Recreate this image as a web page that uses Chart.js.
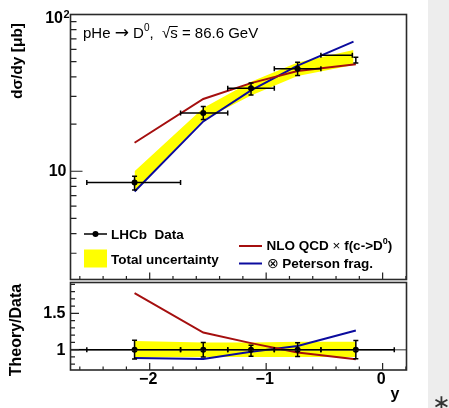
<!DOCTYPE html>
<html><head><meta charset="utf-8">
<script src="https://cdn.jsdelivr.net/npm/chart.js@4.4.0/dist/chart.umd.min.js"></script>
<style>
html,body{margin:0;padding:0;background:#fff;overflow:hidden}
#wrap{position:relative;width:449px;height:408px;background:#fff}
canvas{position:absolute;left:0;top:0}
</style></head>
<body><div id="wrap"><canvas id="top" width="449" height="408"></canvas><canvas id="bot" width="449" height="408"></canvas></div>
<script>
// ---------------- data ----------------
const binCenters = [-2.13, -1.54, -1.13, -0.73, -0.23];
const theoryX    = [-2.13, -1.54, -1.13, -0.73, -0.25];
const topVal     = [8.47, 23.5, 33.8, 45.0, 51.2];
const topErrLo   = [7.6, 21.4, 30.6, 40.8, 49.1];
const topErrHi   = [9.3, 25.9, 36.6, 49.6, 53.4];
const topBinLo   = [-2.54, -1.735, -1.33, -0.93, -0.53];
const topBinHi   = [-1.735, -1.33, -0.93, -0.53, -0.26];
const topBinLevel= [8.47, 23.5, 33.8, 45.0, 55.0];
const topBandHi  = [10.0, 25.3, 37.2, 49.5, 59.4];
const topBandLo  = [7.45, 21.2, 30.4, 40.5, 47.6];
const topNLO     = [15.2, 28.9, 36.5, 43.6, 48.2];
const topPeterson= [7.43, 20.8, 32.8, 47.2, 67.1];

const ratioVal     = [1, 1, 1, 1, 1];
const ratioErrLo   = [0.87, 0.90, 0.91, 0.905, 0.875];
const ratioErrHi   = [1.13, 1.10, 1.06, 1.095, 1.125];
const ratioBinLo   = [-2.54, -1.735, -1.33, -0.93, -0.53];
const ratioBinHi   = [-1.735, -1.33, -0.93, -0.53, 0.10];
const ratioBandHi  = [1.12, 1.097, 1.10, 1.11, 1.11];
const ratioBandLo  = [0.894, 0.90, 0.90, 0.90, 0.90];
const ratioNLO     = [1.78, 1.236, 1.09, 0.96, 0.867];
const ratioPeterson= [0.885, 0.87, 0.97, 1.05, 1.264];

const xMajorTicks = [-2, -1, 0];
const xTickLabels = ['\u22122', '\u22121', '0'];
const xMinorTicks = [-2.6,-2.4,-2.2,-1.8,-1.6,-1.4,-1.2,-0.8,-0.6,-0.4,-0.2,0.2];
const topYMajor = [10, 100];
const topYMinor = [3,4,5,6,7,8,9,20,30,40,50,60,70,80,90];
const ratioYMajor = [1, 1.5];
const ratioYLabels = ['1', '1.5'];
const ratioYMinor = [0.8,0.9,1.1,1.2,1.3,1.4,1.6,1.7,1.8,1.9];

// ---------------- helpers ----------------
const FONT = "'Liberation Sans', Arial, Helvetica, sans-serif";
const RED = '#a50f0f', BLUE = '#0b0b9e', YEL = '#ffff00';
function pts(xs, ys){ return xs.map((x,i)=>({x:x, y:ys[i]})); }
function runs(ctx, x, y, list){
  ctx.textAlign='left'; ctx.textBaseline='alphabetic';
  for(const r of list){ ctx.font=r.f; ctx.fillText(r.t, x, y+(r.dy||0)); x+=ctx.measureText(r.t).width; }
  return x;
}
function errorBars(chart, cx, cy, lo, hi, bl, bh, lvl){
  const ctx=chart.ctx, xs=chart.scales.x, ys=chart.scales.y;
  ctx.save(); ctx.strokeStyle='#000'; ctx.lineWidth=1.5;
  for(let i=0;i<cx.length;i++){
    const x=xs.getPixelForValue(cx[i]);
    const y1=ys.getPixelForValue(lo[i]), y2=ys.getPixelForValue(hi[i]);
    ctx.beginPath(); ctx.moveTo(x,y1); ctx.lineTo(x,y2);
    ctx.moveTo(x-2.5,y1); ctx.lineTo(x+2.5,y1); ctx.moveTo(x-2.5,y2); ctx.lineTo(x+2.5,y2); ctx.stroke();
    const yl=ys.getPixelForValue(lvl[i]);
    const xa=xs.getPixelForValue(bl[i]), xb=xs.getPixelForValue(bh[i]);
    ctx.beginPath(); ctx.moveTo(xa,yl); ctx.lineTo(xb,yl);
    ctx.moveTo(xa,yl-2.5); ctx.lineTo(xa,yl+2.5); ctx.moveTo(xb,yl-2.5); ctx.lineTo(xb,yl+2.5); ctx.stroke();
  }
  ctx.restore();
}
function frameTicks(chart, yMajor, yMinor, yMajLen, yMinLen){
  const ctx=chart.ctx, a=chart.chartArea, xs=chart.scales.x, ys=chart.scales.y;
  ctx.save(); ctx.strokeStyle='#222'; ctx.lineWidth=1.2;
  ctx.beginPath();
  for(const v of xMajorTicks){ const x=xs.getPixelForValue(v); ctx.moveTo(x,a.bottom); ctx.lineTo(x,a.bottom-7); }
  for(const v of xMinorTicks){ const x=xs.getPixelForValue(v); ctx.moveTo(x,a.bottom); ctx.lineTo(x,a.bottom-3.5); }
  for(const v of yMajor){ const y=ys.getPixelForValue(v); ctx.moveTo(a.left,y); ctx.lineTo(a.left+yMajLen,y); }
  for(const v of yMinor){ const y=ys.getPixelForValue(v); ctx.moveTo(a.left,y); ctx.lineTo(a.left+yMinLen,y); }
  ctx.stroke();
  ctx.lineWidth=1.6; ctx.strokeStyle='#2a2a2a';
  ctx.strokeRect(a.left,a.top,a.right-a.left,a.bottom-a.top);
  ctx.restore();
}
const baseX = {type:'linear', min:-2.68, max:0.205, display:false};

// ---------------- top chart ----------------
const topPlugin = {
  id:'topDecor',
  beforeDraw(chart){
    const ctx=chart.ctx; ctx.save();
    ctx.fillStyle='#ededed'; ctx.fillRect(428,0,21,408);
    ctx.fillStyle='#333'; ctx.font="22px 'DejaVu Sans'"; ctx.textAlign='center'; ctx.textBaseline='middle';
    ctx.fillText('\u2217', 441.5, 404);
    ctx.restore();
  },
  afterDatasetsDraw(chart){
    errorBars(chart, binCenters, topVal, topErrLo, topErrHi, topBinLo, topBinHi, topBinLevel);
  },
  afterDraw(chart){
    const ctx=chart.ctx, ys=chart.scales.y;
    frameTicks(chart, topYMajor, topYMinor, 12, 6);
    ctx.save(); ctx.fillStyle='#000';
    const bold16 = "bold 16px "+FONT;
    ctx.font=bold16; ctx.textAlign='right'; ctx.textBaseline='middle';
    ctx.fillText('10', 66.5, ys.getPixelForValue(topYMajor[0])+0.5);
    ctx.fillText('10', 63, ys.getPixelForValue(topYMajor[1])+4.5);
    ctx.font="bold 11px "+FONT; ctx.textAlign='left';
    ctx.fillText('2', 63.5, ys.getPixelForValue(topYMajor[1])+0.5);
    ctx.save(); ctx.translate(17.5, 61); ctx.rotate(-Math.PI/2);
    ctx.font="bold 15.5px "+FONT; ctx.textAlign='center'; ctx.textBaseline='middle';
    ctx.fillText('d\u03c3/dy [\u03bcb]', 0, 0); ctx.restore();
    // annotation
    const reg="15px "+FONT, sup="10px "+FONT, arr="17px 'DejaVu Sans'";
    let x=runs(ctx, 83, 37.5, [{t:'pHe ', f:reg},{t:'\u2192', f:arr},{t:' D', f:reg},{t:'0', f:sup, dy:-6.5},{t:',  ', f:reg}]);
    ctx.font=reg; const wr=ctx.measureText('\u221a').width;
    const x2=runs(ctx, x, 37.5, [{t:'\u221a', f:reg},{t:'s', f:reg}]);
    ctx.strokeStyle='#000'; ctx.lineWidth=1; ctx.beginPath(); ctx.moveTo(x+wr-0.5,26.5); ctx.lineTo(x2,26.5); ctx.stroke();
    runs(ctx, x2, 37.5, [{t:' = 86.6 GeV', f:reg}]);
    // legend
    const lb="bold 13.5px "+FONT, lr="13.5px "+FONT;
    ctx.strokeStyle='#000'; ctx.lineWidth=1.5;
    ctx.beginPath(); ctx.moveTo(84,234); ctx.lineTo(107,234); ctx.stroke();
    ctx.beginPath(); ctx.arc(95.5,234,3,0,Math.PI*2); ctx.fill();
    runs(ctx, 111, 239, [{t:'LHCb  Data', f:lb}]);
    ctx.fillStyle=YEL; ctx.fillRect(84,249.5,23,18); ctx.fillStyle='#000';
    runs(ctx, 111, 263.5, [{t:'Total uncertainty', f:lb}]);
    ctx.lineWidth=2;
    ctx.strokeStyle=RED; ctx.beginPath(); ctx.moveTo(239,246); ctx.lineTo(262,246); ctx.stroke();
    ctx.strokeStyle=BLUE; ctx.beginPath(); ctx.moveTo(239,263.5); ctx.lineTo(262,263.5); ctx.stroke();
    runs(ctx, 266.5, 250, [{t:'NLO QCD ', f:lb},{t:'\u00d7', f:lr},{t:' f(c->D', f:lb},{t:'0', f:"bold 9px "+FONT, dy:-6},{t:')', f:lb}]);
    runs(ctx, 266.5, 268, [{t:'\u2297', f:lr},{t:' Peterson frag.', f:lb}]);
    ctx.restore();
  }
};

new Chart(document.getElementById('top'), {
  type:'line',
  data:{datasets:[
    {label:'bandHi', data:pts(theoryX, topBandHi), fill:'+1', backgroundColor:YEL, borderWidth:0, pointRadius:0, order:3},
    {label:'bandLo', data:pts(theoryX, topBandLo), fill:false, borderWidth:0, pointRadius:0, order:3},
    {label:'NLO', data:pts(binCenters, topNLO), borderColor:RED, borderWidth:2, pointRadius:0, fill:false, order:2},
    {label:'Peterson', data:pts(theoryX, topPeterson), borderColor:BLUE, borderWidth:2, pointRadius:0, fill:false, order:2},
    {label:'LHCb', data:pts(binCenters, topVal), showLine:false, pointRadius:[3,3,3,3,0], pointBackgroundColor:'#000', pointBorderWidth:0, order:0}
  ]},
  options:{
    responsive:false, animation:false, events:[],
    layout:{padding:{left:70.5, right:42.5, top:14.5, bottom:128.5}},
    elements:{line:{tension:0}},
    scales:{x:baseX, y:{type:'logarithmic', min:2.04, max:100, display:false}},
    plugins:{legend:{display:false}, tooltip:{enabled:false}, filler:{drawTime:'beforeDatasetsDraw'}}
  },
  plugins:[topPlugin]
});

// ---------------- ratio chart ----------------
const botPlugin = {
  id:'botDecor',
  afterDatasetsDraw(chart){
    const ctx=chart.ctx, a=chart.chartArea, y1=chart.scales.y.getPixelForValue(1);
    ctx.save(); ctx.strokeStyle='#777'; ctx.lineWidth=1.5;
    ctx.beginPath(); ctx.moveTo(a.left,y1); ctx.lineTo(a.right,y1); ctx.stroke();
    ctx.strokeStyle='#000'; ctx.beginPath(); ctx.moveTo(a.left,y1); ctx.lineTo(chart.scales.x.getPixelForValue(ratioBinLo[0]),y1); ctx.stroke();
    ctx.restore();
    errorBars(chart, binCenters, ratioVal, ratioErrLo, ratioErrHi, ratioBinLo, ratioBinHi, ratioVal);
  },
  afterDraw(chart){
    const ctx=chart.ctx, xs=chart.scales.x, ys=chart.scales.y;
    frameTicks(chart, ratioYMajor, ratioYMinor, 8.5, 4.5);
    ctx.save(); ctx.fillStyle='#000';
    ctx.font="bold 16px "+FONT; ctx.textAlign='right'; ctx.textBaseline='middle';
    ratioYMajor.forEach((v,i)=>ctx.fillText(ratioYLabels[i], 65.5, ys.getPixelForValue(v)+0.5));
    ctx.textAlign='center';
    xMajorTicks.forEach((v,i)=>ctx.fillText(xTickLabels[i], xs.getPixelForValue(v)-1.5, 379.5));
    ctx.textAlign='right';
    ctx.fillText('y', 399.5, 395);
    ctx.save(); ctx.translate(16.5, 330); ctx.rotate(-Math.PI/2);
    ctx.textAlign='center'; ctx.font="bold 16px "+FONT;
    ctx.fillText('Theory/Data', 0, 0); ctx.restore();
    ctx.restore();
  }
};

new Chart(document.getElementById('bot'), {
  type:'line',
  data:{datasets:[
    {label:'bandHi', data:pts(binCenters, ratioBandHi), fill:'+1', backgroundColor:YEL, borderWidth:0, pointRadius:0, order:3},
    {label:'bandLo', data:pts(binCenters, ratioBandLo), fill:false, borderWidth:0, pointRadius:0, order:3},
    {label:'NLO', data:pts(binCenters, ratioNLO), borderColor:RED, borderWidth:2, pointRadius:0, fill:false, order:2},
    {label:'Peterson', data:pts(binCenters, ratioPeterson), borderColor:BLUE, borderWidth:2, pointRadius:0, fill:false, order:2},
    {label:'LHCb', data:pts(binCenters, ratioVal), showLine:false, pointRadius:3, pointBackgroundColor:'#000', pointBorderWidth:0, order:0}
  ]},
  options:{
    responsive:false, animation:false, events:[],
    layout:{padding:{left:70.5, right:42.5, top:282.5, bottom:38}},
    elements:{line:{tension:0}},
    scales:{x:baseX, y:{type:'linear', min:0.72, max:1.925, display:false}},
    plugins:{legend:{display:false}, tooltip:{enabled:false}, filler:{drawTime:'beforeDatasetsDraw'}}
  },
  plugins:[botPlugin]
});
</script>
</body></html>
